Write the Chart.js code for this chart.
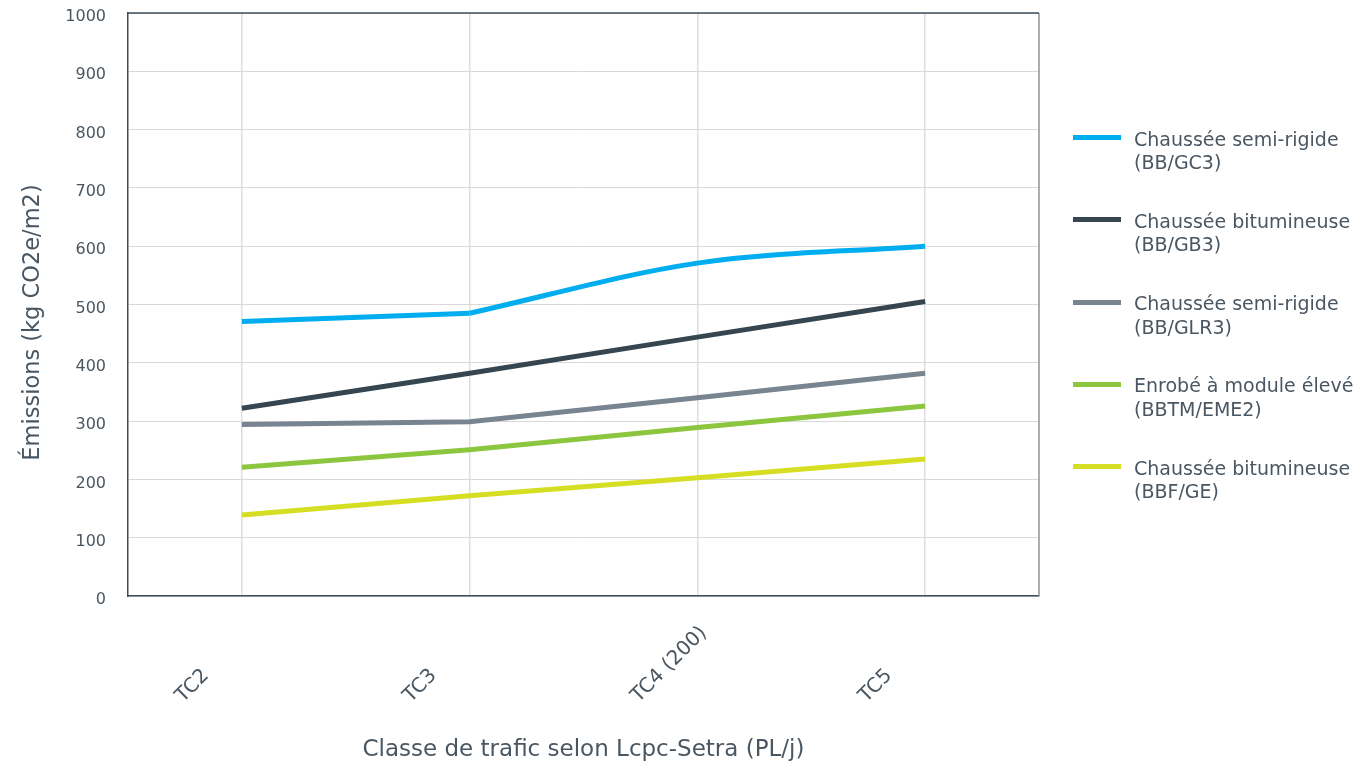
<!DOCTYPE html>
<html lang="fr">
<head>
<meta charset="utf-8">
<script src="https://cdn.jsdelivr.net/npm/chart.js@4"></script>
<style>
  html, body { margin: 0; padding: 0; background: #fff; }
  #wrap { position: relative; width: 1363px; height: 768px; }
  #legende { position: absolute; left: 1073px; top: 0; font-family: "DejaVu Sans", sans-serif; font-size: 19px; color: #4a5762; }
  .item { position: absolute; left: 0; width: 290px; }
  .trait { position: absolute; left: 0; width: 48px; height: 5px; }
  .texte { position: absolute; left: 61px; line-height: 23.5px; white-space: nowrap; }
</style>
</head>
<body>
<div id="wrap">
  <canvas id="graphe" width="1363" height="768"></canvas>
  <div id="legende"></div>
</div>
<script>
// === Données ===
const categories = ['TC2', 'TC3', 'TC4 (200)', 'TC5'];
const semiRigideGC3 = [471, 485, 571, 600];
const bitumineuseGB3 = [322, 382, 444, 505];
const semiRigideGLR3 = [294, 299, 340, 382];
const enrobeEME2 = [221, 251, 289, 326];
const bitumineuseGE = [139, 172, 203, 235];
const etiquettes = [
  ['Chaussée semi-rigide', '(BB/GC3)'],
  ['Chaussée bitumineuse', '(BB/GB3)'],
  ['Chaussée semi-rigide', '(BB/GLR3)'],
  ['Enrobé à module élevé', '(BBTM/EME2)'],
  ['Chaussée bitumineuse', '(BBF/GE)']
];
const titreY = 'Émissions (kg CO2e/m2)';
const titreX = 'Classe de trafic selon Lcpc-Setra (PL/j)';
const couleurs = ['#00adee', '#364650', '#78848f', '#8cc63f', '#d6de23'];
const series = [semiRigideGC3, bitumineuseGB3, semiRigideGLR3, enrobeEME2, bitumineuseGE];

const texteCouleur = '#4a5762';
const police = 'DejaVu Sans';

// cadre autour de la zone du graphique
const cadre = {
  id: 'cadre',
  beforeDatasetsDraw(chart) {
    const a = chart.chartArea;
    const ctx = chart.ctx;
    ctx.save();
    ctx.lineWidth = 1.5;
    ctx.strokeStyle = '#8d959c';
    ctx.beginPath();
    ctx.moveTo(a.right, a.top);
    ctx.lineTo(a.right, a.bottom);
    ctx.stroke();
    ctx.strokeStyle = '#3f4d57';
    ctx.beginPath();
    ctx.moveTo(a.left, a.top);
    ctx.lineTo(a.right, a.top);
    ctx.stroke();
    ctx.restore();
  }
};

// étiquettes de l'axe X inclinées, ancrées au début du texte + titre Y un peu plus bas
const textesAxes = {
  id: 'textesAxes',
  afterDraw(chart) {
    const x = chart.scales.x;
    const a = chart.chartArea;
    const ctx = chart.ctx;
    ctx.save();
    ctx.font = '20px "' + police + '"';
    ctx.fillStyle = texteCouleur;
    ctx.textAlign = 'left';
    ctx.textBaseline = 'alphabetic';
    categories.forEach((c, i) => {
      const px = x.getPixelForValue(i);
      ctx.save();
      ctx.translate(px - 59, 703);
      ctx.rotate(-Math.PI / 4);
      ctx.fillText(c, 0, 0);
      ctx.restore();
    });
    ctx.font = '22.5px "' + police + '"';
    ctx.textAlign = 'center';
    ctx.textBaseline = 'middle';
    ctx.translate(33, (a.top + a.bottom) / 2 + 18);
    ctx.rotate(-Math.PI / 2);
    ctx.fillText(titreY, 0, 0);
    ctx.restore();
  }
};

// la courbe bleue : droite de TC2 à TC3, puis lissée jusqu'à TC5
const bleuDroit = semiRigideGC3.map((v, i) => (i <= 1 ? v : null));
const bleuCourbe = semiRigideGC3.map((v, i) => (i >= 1 ? v : null));

const jeux = series.map((s, i) => ({
  label: etiquettes[i].join(' '),
  data: i === 0 ? bleuDroit : s,
  borderColor: couleurs[i],
  backgroundColor: couleurs[i],
  borderWidth: 5,
  borderCapStyle: 'butt',
  pointRadius: 0,
  tension: 0
}));
jeux.splice(1, 0, {
  label: etiquettes[0].join(' '),
  data: bleuCourbe,
  borderColor: couleurs[0],
  backgroundColor: couleurs[0],
  borderWidth: 5,
  borderCapStyle: 'butt',
  pointRadius: 0,
  cubicInterpolationMode: 'monotone'
});

const ctx = document.getElementById('graphe').getContext('2d');
const graphe = new Chart(ctx, {
  type: 'line',
  data: { labels: categories, datasets: jeux },
  options: {
    responsive: false,
    animation: false,
    layout: { padding: { top: 13, right: 324, left: 0, bottom: 0 } },
    plugins: {
      legend: { display: false },
      tooltip: { enabled: false }
    },
    scales: {
      x: {
        offset: true,
        grid: { offset: false, color: '#dedee2', lineWidth: 1.5, drawTicks: false },
        border: { color: '#3f4d57', width: 1.5 },
        ticks: { display: false },
        title: {
          display: true,
          text: titreX,
          color: texteCouleur,
          font: { family: police, size: 23 },
          padding: { bottom: 4 }
        },
        afterFit(scale) { scale.height = 172; }
      },
      y: {
        min: 0,
        max: 1000,
        grid: { color: '#d9d9d9', lineWidth: 1, drawTicks: false },
        border: { color: '#3f4d57', width: 1.5 },
        ticks: {
          stepSize: 100,
          color: texteCouleur,
          font: { family: police, size: 16 },
          padding: 22,
          labelOffset: 4,
          callback: v => String(v)
        },
        afterFit(scale) {
          scale.width = 128;
          scale.paddingTop = 0;
          scale.paddingBottom = 0;
        }
      }
    }
  },
  plugins: [cadre, textesAxes]
});

// === Légende ===
const legende = document.getElementById('legende');
etiquettes.forEach((lignes, i) => {
  const y = 137.5 + i * 82.3;
  const item = document.createElement('div');
  item.className = 'item';
  item.style.top = y + 'px';
  const trait = document.createElement('div');
  trait.className = 'trait';
  trait.style.background = couleurs[i];
  trait.style.top = '-2.5px';
  const texte = document.createElement('div');
  texte.className = 'texte';
  texte.style.top = '-10px';
  texte.innerHTML = lignes.join('<br>');
  item.appendChild(trait);
  item.appendChild(texte);
  legende.appendChild(item);
});
</script>
</body>
</html>
